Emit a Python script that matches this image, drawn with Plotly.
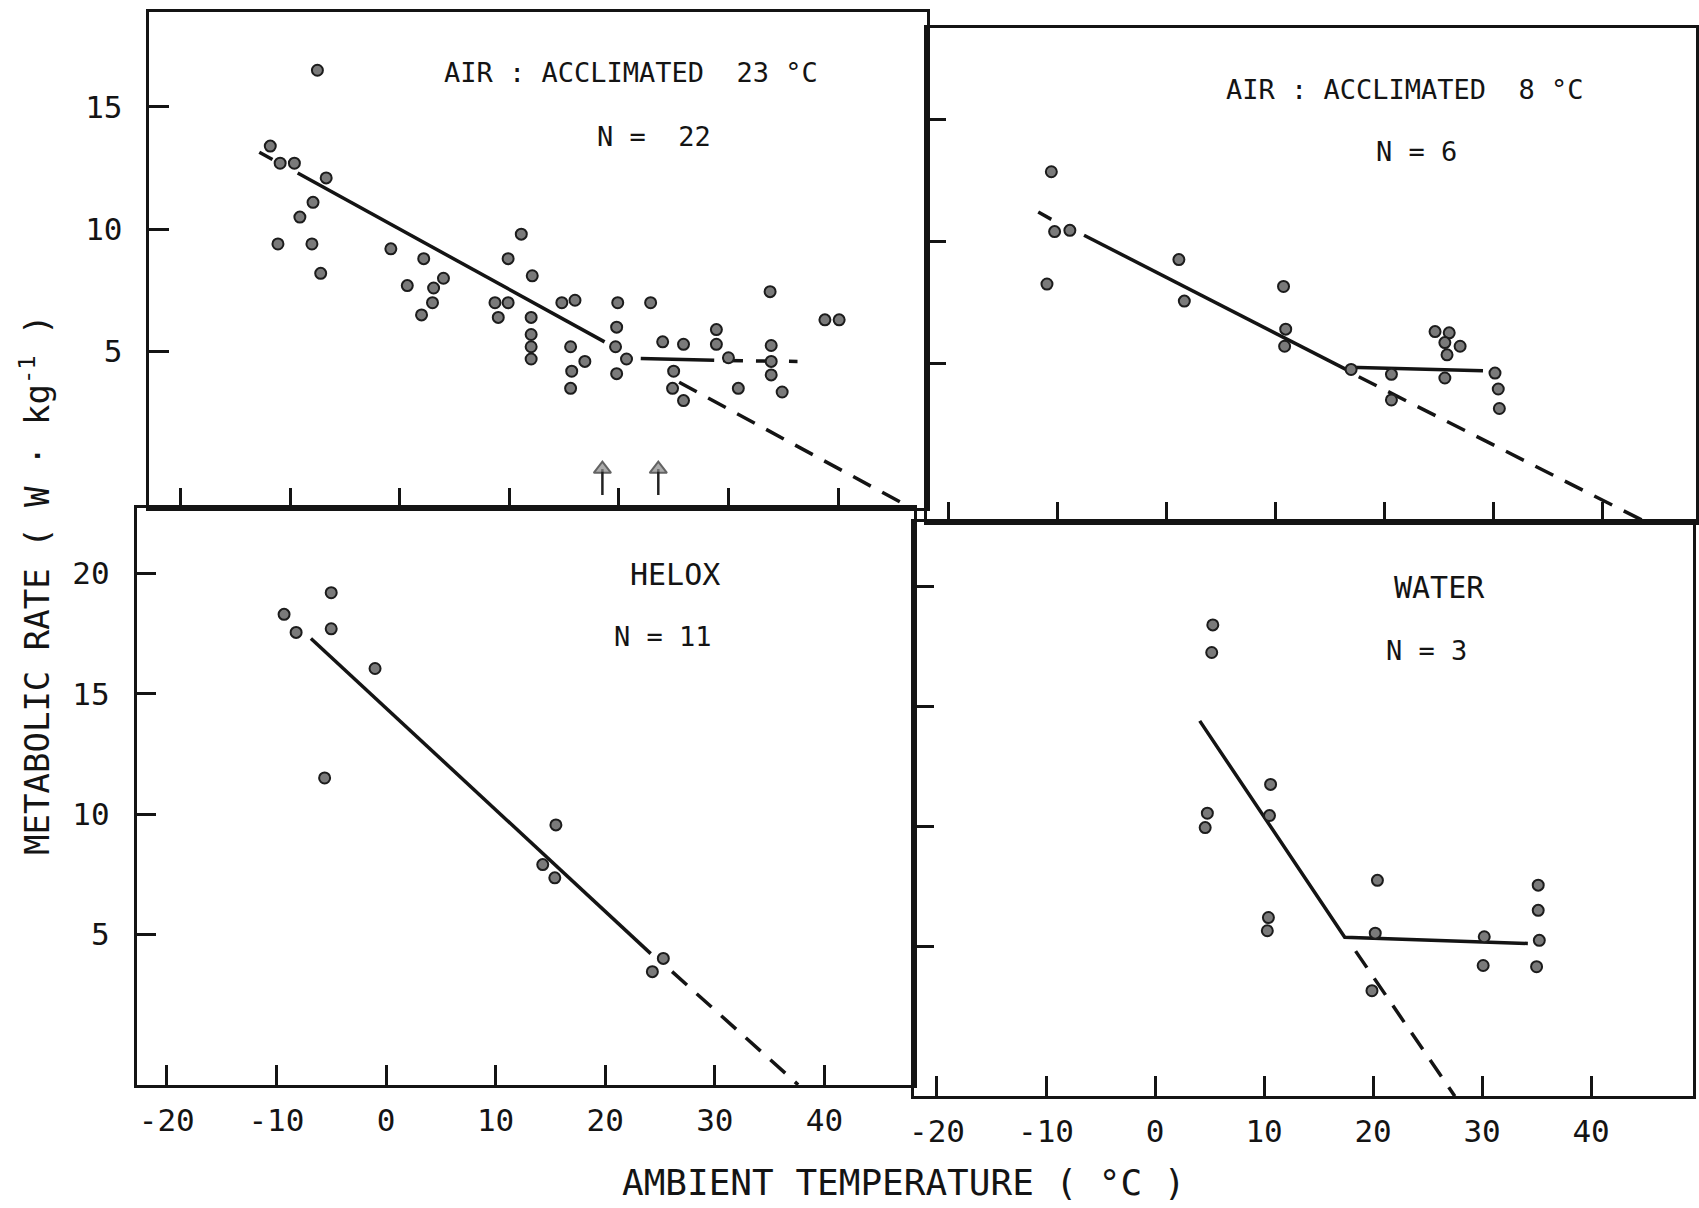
import plotly.graph_objects as go

# ---------------- data ----------------
x_tick_vals = [-20, -10, 0, 10, 20, 30, 40]
x_tick_text = ["-20", "-10", "0", "10", "20", "30", "40"]
y_tick_top = [5, 10, 15]
y_tick_top_text = ["5", "10", "15"]
y_tick_bot = [5, 10, 15, 20]
y_tick_bot_text = ["5", "10", "15", "20"]

# Air, acclimated 23 C
tl_t = [-7.5, -11.8, -10.9, -9.6, -6.7, -7.9, -9.1, -11.1, -8.0, -7.2, -0.8, 2.2, 0.7, 3.1, 4.0,
        3.0, 2.0, 11.1, 9.9, 12.1, 8.7, 9.9, 9.0, 12.0, 12.0, 12.0, 12.0, 14.8, 16.0, 15.6,
        16.9, 15.7, 15.6, 19.9, 19.8, 19.7, 20.7, 19.8, 22.9, 24.0, 25.9, 25.0, 24.9, 25.9, 28.9,
        28.9, 30.0, 30.9, 33.8, 33.9, 33.9, 33.9, 34.9, 38.8, 40.1]
tl_v = [16.5, 13.4, 12.7, 12.7, 12.1, 11.1, 10.5, 9.4, 9.4, 8.2, 9.2, 8.8, 7.7, 7.6, 8.0,
        7.0, 6.5, 9.8, 8.8, 8.1, 7.0, 7.0, 6.4, 6.4, 5.7, 5.2, 4.7, 7.0, 7.1, 5.2,
        4.6, 4.2, 3.5, 7.0, 6.0, 5.2, 4.7, 4.1, 7.0, 5.4, 5.3, 4.2, 3.5, 3.0, 5.9,
        5.3, 4.75, 3.5, 7.45, 5.25, 4.6, 4.05, 3.35, 6.3, 6.3]
tl_solid_t = [-9.3, 18.7, None, 22.0, 28.7]
tl_solid_v = [12.3, 5.4, None, 4.72, 4.65]
tl_dash_t = [-12.8, -11.6, None, 25.5, 46.3, None, 29.5, 36.3]
tl_dash_v = [13.15, 12.85, None, 3.75, -1.3, None, 4.64, 4.6]
# arrows marking the break points (base, tip)
arrow_t = [18.5, 18.5, None, 23.6, 23.6]
arrow_v = [-0.86, 0.2, None, -0.86, 0.2]

# Air, acclimated 8 C
tr_t = [-10.6, -10.3, -8.9, -11.0, 1.1, 1.6, 10.7, 10.9, 10.8, 20.6, 20.6, 24.6, 25.9, 25.5,
        26.9, 25.7, 25.5, 30.1, 30.4, 30.5, 16.9]
tr_v = [12.85, 10.4, 10.45, 8.25, 9.25, 7.55, 8.15, 6.4, 5.7, 4.55, 3.5, 6.3, 6.25, 5.85,
        5.7, 5.35, 4.4, 4.6, 3.95, 3.15, 4.75]
tr_solid_t = [-7.6, 17.1, None, 16.7, 29.0]
tr_solid_v = [10.25, 4.6, None, 4.84, 4.70]
tr_dash_t = [-11.8, -10.6, None, 17.6, 43.7]
tr_dash_v = [11.2, 10.9, None, 4.45, -1.45]

# Helox
bl_t = [-9.3, -8.2, -5.0, -5.0, -1.0, -5.6, 15.5, 14.3, 15.4, 25.3, 24.3]
bl_v = [18.3, 17.55, 19.2, 17.7, 16.05, 11.5, 9.55, 7.9, 7.35, 4.0, 3.45]
bl_solid_t = [-6.85, 24.15]
bl_solid_v = [17.3, 4.2]
bl_dash_t = [26.1, 37.6]
bl_dash_v = [3.45, -1.25]

# Water
br_t = [5.3, 5.2, 4.8, 4.6, 10.6, 10.5, 10.4, 10.3, 20.4, 20.2, 19.9, 30.2, 30.1, 35.15,
        35.15, 35.25, 35.0]
br_v = [18.4, 17.25, 10.55, 9.95, 11.75, 10.45, 6.2, 5.65, 7.75, 5.55, 3.15, 5.4, 4.2, 7.55,
        6.5, 5.25, 4.15]
br_solid_t = [4.1, 17.4, 34.2]
br_solid_v = [14.4, 5.38, 5.12]
br_dash_t = [18.4, 27.5]
br_dash_v = [4.8, -1.25]

panel_titles = ["AIR : ACCLIMATED\u00a0 23 \u00b0C", "AIR : ACCLIMATED\u00a0 8 \u00b0C", "HELOX", "WATER"]
panel_n = ["N = \u00a022", "N = 6", "N = 11", "N = 3"]
x_title = "AMBIENT TEMPERATURE ( \u00b0C )"
y_title = "METABOLIC RATE ( W \u00b7 kg<sup>-1</sup> )"

# ---------------- styling ----------------
W, H = 1699, 1208
FONT = "DejaVu Sans Mono, Liberation Mono, monospace"
INK = "#141414"
LINE_W = 3.5
DASH = "20px,13px"


def px_dom_x(a, b):
    return [a / W, b / W]


def px_dom_y(top, bottom):
    return [1 - bottom / H, 1 - top / H]


fig = go.Figure()

panels = [
    ("x", "y", tl_t, tl_v, tl_solid_t, tl_solid_v, tl_dash_t, tl_dash_v),
    ("x2", "y2", tr_t, tr_v, tr_solid_t, tr_solid_v, tr_dash_t, tr_dash_v),
    ("x3", "y3", bl_t, bl_v, bl_solid_t, bl_solid_v, bl_dash_t, bl_dash_v),
    ("x4", "y4", br_t, br_v, br_solid_t, br_solid_v, br_dash_t, br_dash_v),
]

for xa, ya, pt, pv, st, sv, dt, dv in panels:
    fig.add_trace(go.Scatter(x=st, y=sv, xaxis=xa, yaxis=ya, mode="lines",
                             line=dict(color=INK, width=LINE_W), hoverinfo="skip",
                             showlegend=False))
    fig.add_trace(go.Scatter(x=dt, y=dv, xaxis=xa, yaxis=ya, mode="lines",
                             line=dict(color=INK, width=LINE_W, dash=DASH), hoverinfo="skip",
                             showlegend=False))
    fig.add_trace(go.Scatter(x=pt, y=pv, xaxis=xa, yaxis=ya, mode="markers",
                             marker=dict(size=11, color="#7a7a7a",
                                         line=dict(color="#1c1c1c", width=2)),
                             showlegend=False))

# arrows: shaft + triangular head
fig.add_trace(go.Scatter(x=arrow_t, y=arrow_v, xaxis="x", yaxis="y", mode="lines+markers",
                         line=dict(color="#222", width=2.5),
                         marker=dict(symbol=["circle", "triangle-up", "circle", "circle", "triangle-up"],
                                     size=[0, 15, 0, 0, 15], color="#888",
                                     line=dict(color="#222", width=2)),
                         hoverinfo="skip", showlegend=False))


def xaxis(domain, rng, anchor, labels):
    return dict(domain=domain, range=rng, anchor=anchor, showgrid=False, zeroline=False,
                showline=True, linecolor=INK, linewidth=2.5, mirror=True,
                ticks="inside", ticklen=20, tickwidth=2.5, tickcolor=INK,
                tickmode="array", tickvals=x_tick_vals, ticktext=x_tick_text,
                showticklabels=labels, ticklabelstandoff=6,
                tickfont=dict(family=FONT, size=31, color=INK), fixedrange=True)


def yaxis(domain, rng, anchor, vals, text, labels):
    return dict(domain=domain, range=rng, anchor=anchor, showgrid=False, zeroline=False,
                showline=True, linecolor=INK, linewidth=2.5, mirror=True,
                ticks="inside", ticklen=20, tickwidth=2.5, tickcolor=INK,
                tickmode="array", tickvals=vals, ticktext=text,
                showticklabels=labels, ticklabelstandoff=18,
                tickfont=dict(family=FONT, size=31, color=INK), fixedrange=True)


fig.update_layout(
    width=W, height=H,
    margin=dict(l=0, r=0, t=0, b=0),
    paper_bgcolor="white", plot_bgcolor="white",
    xaxis=xaxis(px_dom_x(145, 925), [-22.82, 48.09], "y", False),
    yaxis=yaxis(px_dom_y(12, 508), [-1.39, 18.88], "x", y_tick_top, y_tick_top_text, True),
    xaxis2=xaxis(px_dom_x(925, 1697), [-22.03, 48.54], "y2", False),
    yaxis2=yaxis(px_dom_y(28, 522), [-1.50, 18.74], "x2", y_tick_top, y_tick_top_text, False),
    xaxis3=xaxis(px_dom_x(132, 912), [-22.76, 48.15], "y3", True),
    yaxis3=yaxis(px_dom_y(508, 1085), [-1.26, 22.72], "x3", y_tick_bot, y_tick_bot_text, True),
    xaxis4=xaxis(px_dom_x(912, 1694), [-22.13, 49.35], "y4", True),
    yaxis4=yaxis(px_dom_y(522, 1096), [-1.24, 22.69], "x4", y_tick_bot, y_tick_bot_text, False),
)

ann = []
title_pos = [("x", "y", 21.1, 16.4, 27), ("x2", "y2", 21.8, 16.2, 27),
             ("x3", "y3", 26.4, 19.97, 30), ("x4", "y4", 26.1, 19.94, 30)]
n_pos = [("x", "y", 23.2, 13.78), ("x2", "y2", 22.9, 13.66),
         ("x3", "y3", 25.3, 17.36), ("x4", "y4", 24.9, 17.35)]
for (xr, yr, tx, ty, fs), txt in zip(title_pos, panel_titles):
    ann.append(dict(x=tx, y=ty, xref=xr, yref=yr, text=txt, showarrow=False,
                    font=dict(family=FONT, size=fs, color=INK)))
for (xr, yr, tx, ty), txt in zip(n_pos, panel_n):
    ann.append(dict(x=tx, y=ty, xref=xr, yref=yr, text=txt, showarrow=False,
                    font=dict(family=FONT, size=27, color=INK)))

ann.append(dict(x=902 / W, y=1 - 1182 / H, xref="paper", yref="paper", text=x_title,
                showarrow=False, xanchor="center", yanchor="middle",
                font=dict(family=FONT, size=36, color=INK)))
ann.append(dict(x=30 / W, y=1 - 585 / H, xref="paper", yref="paper", text=y_title,
                showarrow=False, textangle=-90, xanchor="center", yanchor="middle",
                font=dict(family=FONT, size=34, color=INK)))

fig.update_layout(annotations=ann)

fig.write_html("out.html")
